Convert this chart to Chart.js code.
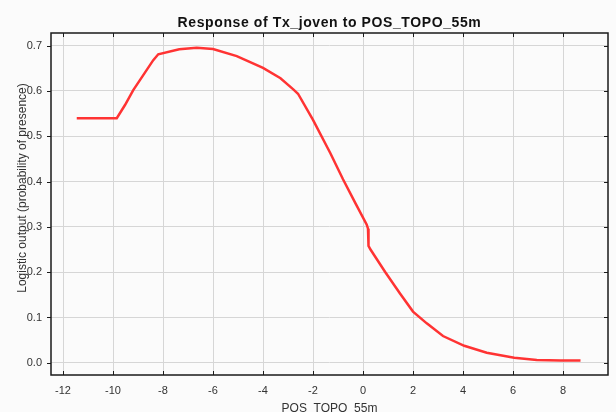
<!DOCTYPE html>
<html>
<head>
<meta charset="utf-8">
<script src="https://cdn.jsdelivr.net/npm/chart.js@4"></script>
<style>
html, body { margin: 0; padding: 0; background: #fbfbfb; }
#chart { display: block; }
</style>
</head>
<body>
<canvas id="chart" width="616" height="412"></canvas>
<script>
var titleText = 'Response of Tx_joven to POS_TOPO_55m';
var xTitle = 'POS_TOPO_55m';
var yTitle = 'Logistic output (probability of presence)';
var xTicks = [-12, -10, -8, -6, -4, -2, 0, 2, 4, 6, 8];
var yTicks = [0, 0.1, 0.2, 0.3, 0.4, 0.5, 0.6, 0.7];

// response curve
var xs = [-11.45, -9.85, -9.52, -9.19, -8.79, -8.39, -8.19, -7.35, -6.65, -6.0, -5.05, -4.0, -3.3, -2.8, -2.6,
	-2.0, -1.3, -0.8, -0.3, 0.15, 0.2, 0.22, 0.3, 0.88, 1.48, 2.0, 2.55, 3.2, 4.05, 4.95, 6.05, 6.95, 7.9, 8.7];
var ys = [0.54, 0.54, 0.569, 0.602, 0.635, 0.668, 0.681, 0.692, 0.6955, 0.6925, 0.677, 0.651, 0.628, 0.604, 0.594,
	0.536, 0.462, 0.405, 0.352, 0.305, 0.296, 0.258, 0.25, 0.201, 0.153, 0.113, 0.087, 0.059, 0.0375, 0.022, 0.011, 0.006, 0.005, 0.005];

var points = xs.map(function(x, i){ return {x: x, y: ys[i]}; });

// frame, inner ticks, title and axis titles
var framePlugin = {
	id: 'frame',
	afterDraw: function(chart){
		var ctx = chart.ctx;
		var a = chart.chartArea;
		var sx = chart.scales.x;
		var sy = chart.scales.y;
		ctx.save();
		ctx.strokeStyle = '#1a1a1a';
		ctx.lineWidth = 1;
		ctx.beginPath();
		xTicks.forEach(function(v){
			var p = Math.round(sx.getPixelForValue(v)) + 0.5;
			ctx.moveTo(p, a.top); ctx.lineTo(p, a.top + 4);
			ctx.moveTo(p, a.bottom); ctx.lineTo(p, a.bottom - 4);
		});
		yTicks.forEach(function(v){
			var p = Math.round(sy.getPixelForValue(v)) + 0.5;
			ctx.moveTo(a.left - 4, p); ctx.lineTo(a.left, p);
			ctx.moveTo(a.right, p); ctx.lineTo(a.right - 4, p);
		});
		ctx.stroke();
		ctx.lineWidth = 1.5;
		ctx.strokeRect(a.left, a.top, a.right - a.left, a.bottom - a.top);

		ctx.textAlign = 'center';
		ctx.textBaseline = 'alphabetic';
		ctx.fillStyle = '#111';
		ctx.font = 'bold 14px Arial';
		ctx.letterSpacing = '0.6px';
		ctx.fillText(titleText, (a.left + a.right) / 2, 27);
		ctx.letterSpacing = '0px';

		ctx.fillStyle = '#333';
		ctx.font = '12px Arial';
		ctx.fillText(xTitle, (a.left + a.right) / 2, 412);
		ctx.translate(26, 188);
		ctx.rotate(-Math.PI / 2);
		ctx.fillText(yTitle, 0, 0);
		ctx.restore();
	}
};

new Chart(document.getElementById('chart'), {
	type: 'scatter',
	data: {
		datasets: [{
			data: points,
			showLine: true,
			borderColor: '#ff3333',
			borderWidth: 2.5,
			pointRadius: 0,
			tension: 0
		}]
	},
	options: {
		responsive: false,
		animation: false,
		layout: { padding: { left: 0, right: 8, top: 33, bottom: 0 } },
		plugins: {
			legend: { display: false },
			tooltip: { enabled: false },
			title: { display: false }
		},
		scales: {
			x: {
				type: 'linear',
				min: -12.48,
				max: 9.8,
				afterBuildTicks: function(s){ s.ticks = xTicks.map(function(v){ return {value: v}; }); },
				afterFit: function(s){ s.height = 37; },
				grid: { color: '#d6d6d6', drawTicks: false },
				border: { display: false },
				ticks: { padding: 9, color: '#333', font: { family: 'Arial', size: 11 }, callback: function(v){ return String(v); } }
			},
			y: {
				type: 'linear',
				min: -0.027,
				max: 0.728,
				afterBuildTicks: function(s){ s.ticks = yTicks.map(function(v){ return {value: v}; }); },
				afterFit: function(s){ s.width = 51; },
				grid: { color: '#d6d6d6', drawTicks: false },
				border: { display: false },
				ticks: { padding: 9, color: '#333', font: { family: 'Arial', size: 11 }, callback: function(v){ return v.toFixed(1); } }
			}
		}
	},
	plugins: [framePlugin]
});
</script>
</body>
</html>
